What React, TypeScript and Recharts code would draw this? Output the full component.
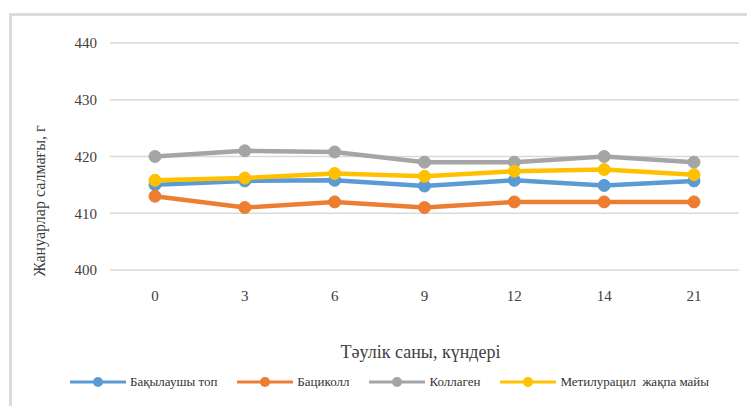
import React from "react";
import { LineChart, Line, XAxis, YAxis, CartesianGrid } from "recharts";

// Days of observation
const days = ["0", "3", "6", "9", "12", "14", "21"];

// Body weight of animals per group, g
const controlGroup = [415, 415.7, 415.8, 414.8, 415.8, 414.9, 415.7];
const bacikollGroup = [413, 411, 412, 411, 412, 412, 412];
const collagenGroup = [420, 421, 420.8, 419, 419, 420, 419];
const methyluracilGroup = [415.8, 416.2, 417, 416.5, 417.4, 417.7, 416.8];

const yTicks = [400, 410, 420, 430, 440];

const seriesNames = {
  control: "Бақылаушы топ",
  bacikoll: "Бациколл",
  collagen: "Коллаген",
  methyluracil: "Метилурацил  жақпа майы",
};

const colors = {
  control: "#5B9BD5",
  bacikoll: "#ED7D31",
  collagen: "#A5A5A5",
  methyluracil: "#FFC000",
};

const data = days.map((d, i) => ({
  day: d,
  control: controlGroup[i],
  bacikoll: bacikollGroup[i],
  collagen: collagenGroup[i],
  methyluracil: methyluracilGroup[i],
}));

const FONT = "'Liberation Serif', 'Times New Roman', Times, serif";
const order = ["control", "bacikoll", "collagen", "methyluracil"] as const;

function ChartLegend() {
  return (
    <div
      style={{
        position: "absolute",
        left: 62,
        top: 366,
        display: "flex",
        alignItems: "center",
        fontFamily: FONT,
        fontSize: 13,
        color: "#333",
      }}
    >
      {order.map((k) => (
        <div key={k} style={{ display: "flex", alignItems: "center", marginRight: 20 }}>
          <svg width={56} height={12} style={{ display: "block" }}>
            <line x1={1} y1={6} x2={55} y2={6} stroke={colors[k]} strokeWidth={3} strokeLinecap="round" />
            <circle cx={28} cy={6} r={5} fill={colors[k]} />
          </svg>
          <span style={{ marginLeft: 4, whiteSpace: "pre" }}>{seriesNames[k]}</span>
        </div>
      ))}
    </div>
  );
}

export default function App() {
  return (
    <div style={{ position: "relative", width: 747, height: 398, overflow: "hidden", background: "#fff", fontFamily: FONT }}>
      <div
        style={{
          position: "absolute",
          left: 1,
          top: 5,
          width: 900,
          height: 600,
          border: "3px solid #dcdcdc",
          boxSizing: "border-box",
        }}
      />
      <div style={{ position: "absolute", left: 0, top: 0 }}>
        <LineChart
          width={747}
          height={398}
          data={data}
          margin={{ top: 35, right: 16, bottom: 106, left: 0 }}
        >
          <CartesianGrid vertical={false} stroke="#d9d9d9" strokeWidth={1.5} />
          <XAxis
            dataKey="day"
            height={30}
            padding={{ left: 45, right: 45 }}
            axisLine={false}
            tickLine={false}
            tickSize={0}
            tickMargin={20}
            tick={{ fill: "#404040", fontSize: 15, fontFamily: FONT }}
            label={({ viewBox }: any) => (
              <text
                x={viewBox.x + viewBox.width / 2 - 4}
                y={viewBox.y + 88}
                textAnchor="middle"
                fontFamily={FONT}
                fontSize={18}
                fill="#404040"
              >
                Тәулік саны, күндері
              </text>
            )}
          />
          <YAxis
            domain={[400, 440]}
            ticks={yTicks}
            width={102}
            axisLine={false}
            tickLine={false}
            tickSize={0}
            tickMargin={13}
            tick={{ fill: "#404040", fontSize: 15, fontFamily: FONT }}
            label={() => {
              const cx = 31;
              const cy = 193;
              return (
                <text
                  x={cx}
                  y={cy}
                  textAnchor="middle"
                  dominantBaseline="central"
                  transform={`rotate(-90 ${cx} ${cy})`}
                  fontFamily={FONT}
                  fontSize={16}
                  fill="#404040"
                >
                  Жануарлар салмағы, г
                </text>
              );
            }}
          />
          {order.map((k) => (
            <Line
              key={k}
              type="linear"
              dataKey={k}
              name={seriesNames[k]}
              stroke={colors[k]}
              strokeWidth={4.5}
              dot={{ r: 6, fill: colors[k], stroke: colors[k], strokeWidth: 1 }}
              activeDot={false}
              isAnimationActive={false}
            />
          ))}
        </LineChart>
      </div>
      <ChartLegend />
    </div>
  );
}
